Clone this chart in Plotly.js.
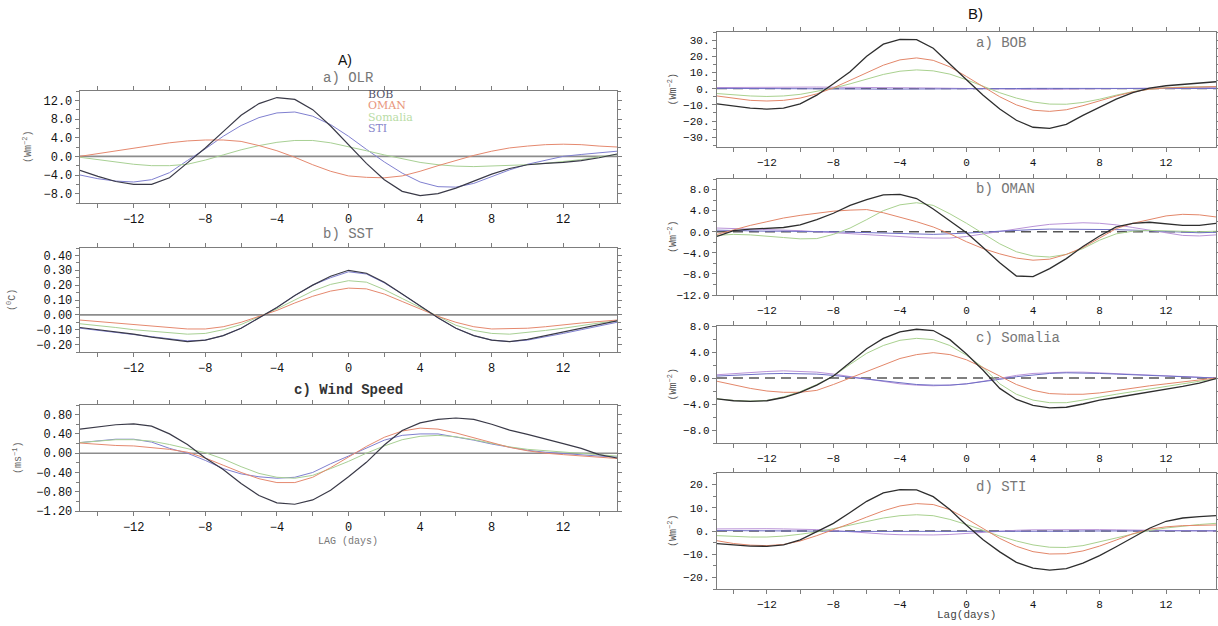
<!DOCTYPE html>
<html>
<head>
<meta charset="utf-8">
<script src="https://cdn.plot.ly/plotly-3.0.1.min.js"></script>
<style>html,body{margin:0;padding:0;background:#fff}#chart{width:1218px;height:626px}</style>
</head>
<body>
<div id="chart"></div>
<script>
// ---------------- DATA ----------------
const lag = [-15,-14,-13,-12,-11,-10,-9,-8,-7,-6,-5,-4,-3,-2,-1,0,1,2,3,4,5,6,7,8,9,10,11,12,13,14,15];

// Panel A a) OLR (W m-2)
const olrBOB     = [-3.0,-4.3,-5.4,-6.0,-6.0,-4.6,-1.4,1.8,5.3,8.8,11.3,12.6,12.2,10.0,6.5,2.5,-1.5,-5.0,-7.5,-8.4,-8.0,-6.8,-5.3,-3.8,-2.6,-1.8,-1.5,-1.3,-0.9,-0.3,0.5];
const olrOMAN    = [0.0,0.6,1.2,1.8,2.4,2.9,3.3,3.5,3.5,3.2,2.3,1.2,-0.2,-1.8,-3.2,-4.2,-4.5,-4.6,-4.2,-3.2,-2.0,-0.9,0.2,1.1,1.8,2.2,2.5,2.6,2.5,2.2,2.0];
const olrSomalia = [-0.2,-0.7,-1.3,-1.7,-2.0,-2.0,-1.7,-0.8,0.3,1.4,2.3,3.0,3.4,3.4,2.9,2.1,1.2,0.3,-0.5,-1.3,-1.8,-2.1,-2.2,-2.1,-2.0,-1.8,-1.5,-1.1,-0.7,-0.1,0.4];
const olrSTI     = [-4.0,-4.8,-5.3,-5.5,-5.0,-3.5,-0.9,1.6,4.3,6.6,8.3,9.3,9.5,8.6,6.8,4.3,1.5,-1.2,-3.6,-5.5,-6.5,-6.6,-5.8,-4.4,-2.9,-1.7,-0.8,0.0,0.4,0.8,1.1];

// Panel A b) SST (deg C)
const sstBOB     = [-0.085,-0.10,-0.115,-0.13,-0.15,-0.165,-0.18,-0.17,-0.14,-0.09,-0.02,0.05,0.13,0.20,0.26,0.30,0.28,0.22,0.14,0.06,-0.02,-0.09,-0.14,-0.17,-0.18,-0.165,-0.14,-0.115,-0.09,-0.065,-0.04];
const sstOMAN    = [-0.035,-0.045,-0.055,-0.065,-0.075,-0.085,-0.095,-0.095,-0.08,-0.05,-0.01,0.03,0.08,0.125,0.16,0.18,0.175,0.14,0.09,0.04,-0.01,-0.05,-0.08,-0.095,-0.095,-0.09,-0.08,-0.065,-0.055,-0.045,-0.035];
const sstSomalia = [-0.06,-0.07,-0.085,-0.10,-0.11,-0.12,-0.13,-0.125,-0.10,-0.065,-0.015,0.04,0.10,0.16,0.205,0.23,0.22,0.17,0.11,0.05,-0.015,-0.07,-0.105,-0.125,-0.13,-0.12,-0.105,-0.09,-0.07,-0.055,-0.04];
const sstSTI     = [-0.09,-0.105,-0.12,-0.135,-0.15,-0.165,-0.175,-0.17,-0.14,-0.09,-0.02,0.05,0.13,0.20,0.25,0.29,0.275,0.215,0.14,0.06,-0.02,-0.09,-0.14,-0.17,-0.18,-0.17,-0.15,-0.125,-0.10,-0.075,-0.05];

// Panel A c) Wind speed (m s-1)
const windBOB     = [0.50,0.55,0.59,0.61,0.56,0.40,0.18,-0.10,-0.34,-0.63,-0.88,-1.03,-1.06,-0.97,-0.77,-0.49,-0.19,0.17,0.47,0.63,0.70,0.73,0.70,0.60,0.48,0.39,0.30,0.20,0.10,-0.03,-0.10];
const windOMAN    = [0.21,0.18,0.16,0.15,0.12,0.08,0.02,-0.10,-0.25,-0.40,-0.53,-0.61,-0.61,-0.50,-0.30,-0.08,0.14,0.33,0.46,0.52,0.50,0.42,0.32,0.22,0.12,0.05,0.00,-0.03,-0.06,-0.09,-0.11];
const windSomalia = [0.22,0.25,0.28,0.28,0.25,0.18,0.10,0.01,-0.12,-0.28,-0.42,-0.50,-0.52,-0.46,-0.32,-0.17,0.00,0.15,0.28,0.35,0.37,0.34,0.28,0.20,0.13,0.08,0.05,0.03,0.00,-0.03,-0.06];
const windSTI     = [0.22,0.26,0.29,0.29,0.23,0.10,0.00,-0.15,-0.32,-0.43,-0.49,-0.52,-0.50,-0.40,-0.22,-0.06,0.11,0.27,0.37,0.40,0.40,0.34,0.27,0.19,0.12,0.06,0.02,-0.01,-0.04,-0.06,-0.08];

// Panel B (W m-2), five curves per region: s1 black, s2 orange, s3 green, s4 blue, s5 violet
const bobS1 = [-9.4,-10.8,-12.0,-12.6,-12.0,-9.4,-4.0,3.0,10.5,20.0,27.5,30.5,30.3,25.0,15.0,5.5,-4.0,-12.5,-19.5,-23.8,-24.5,-22.0,-16.5,-11.5,-6.5,-2.5,0.3,1.8,2.6,3.4,4.3];
const bobS2 = [-4.5,-6.0,-7.2,-7.6,-7.2,-5.8,-3.2,0.5,5.0,10.0,14.5,17.8,19.0,17.5,13.5,7.5,1.0,-5.0,-10.0,-13.3,-14.0,-13.0,-10.5,-7.5,-4.5,-2.0,-0.3,0.5,0.9,1.1,1.3];
const bobS3 = [-3.0,-3.8,-4.5,-4.8,-4.5,-3.5,-1.8,0.3,3.0,6.0,8.8,10.8,11.6,11.0,9.0,5.5,1.5,-2.5,-5.8,-8.2,-9.5,-9.6,-8.5,-6.5,-4.0,-1.8,-0.3,0.6,1.0,1.2,1.3];
const bobS4 = [0.2,0.2,0.1,0.1,0.0,0.0,-0.1,-0.1,-0.2,-0.2,-0.3,-0.3,-0.3,-0.2,-0.2,-0.1,0.0,0.1,0.1,0.2,0.2,0.2,0.2,0.1,0.1,0.1,0.0,0.0,0.0,0.1,0.1];
const bobS5 = [0.7,0.8,0.9,0.9,1.0,1.0,1.0,0.9,0.9,0.8,0.7,0.6,0.5,0.4,0.2,0.0,-0.2,-0.3,-0.4,-0.4,-0.4,-0.3,-0.2,-0.1,0.0,0.2,0.3,0.5,0.6,0.7,0.8];

const omanS1 = [-0.9,0.2,0.5,0.6,0.8,1.3,2.3,3.5,5.0,6.1,7.0,7.1,6.3,4.3,2.0,-0.2,-3.0,-5.9,-8.4,-8.5,-7.0,-5.1,-2.8,-0.8,0.9,1.6,1.8,1.5,1.2,1.2,1.6];
const omanS2 = [-0.5,0.4,1.2,1.9,2.6,3.1,3.5,3.9,4.1,4.2,3.6,2.8,1.9,0.9,-0.4,-1.9,-3.2,-4.2,-5.0,-5.4,-5.2,-4.3,-3.0,-1.2,0.6,1.6,2.3,3.0,3.3,3.2,2.8];
const omanS3 = [-0.7,-0.5,-0.6,-0.9,-1.1,-1.35,-1.3,-0.5,0.7,2.3,4.0,5.1,5.5,5.0,3.4,1.6,-0.4,-2.3,-3.8,-4.6,-4.8,-4.3,-3.2,-1.6,-0.4,0.1,0.25,0.15,0.0,0.0,0.1];
const omanS4 = [0.3,0.2,0.2,0.1,0.1,0.0,0.0,0.0,-0.1,-0.2,-0.3,-0.4,-0.5,-0.5,-0.4,-0.3,-0.1,0.1,0.3,0.4,0.5,0.5,0.5,0.5,0.4,0.3,0.2,0.0,-0.1,-0.2,-0.1];
const omanS5 = [0.7,0.6,0.6,0.5,0.4,0.2,0.0,-0.2,-0.4,-0.6,-0.8,-1.0,-1.1,-1.2,-1.2,-0.9,-0.4,0.1,0.6,1.0,1.4,1.6,1.7,1.6,1.3,0.8,0.3,-0.3,-0.7,-0.8,-0.6];

const somS1 = [-3.2,-3.5,-3.6,-3.5,-3.0,-2.2,-1.1,0.3,2.4,4.5,6.1,7.1,7.5,7.3,5.9,3.7,1.2,-1.6,-3.3,-4.2,-4.6,-4.5,-4.0,-3.4,-3.0,-2.6,-2.2,-1.8,-1.3,-0.8,-0.1];
const somS2 = [-0.5,-1.1,-1.6,-2.0,-2.2,-2.2,-1.9,-1.0,0.0,1.0,2.0,3.0,3.6,3.9,3.6,2.8,1.6,0.3,-1.0,-1.9,-2.4,-2.5,-2.5,-2.3,-1.9,-1.5,-1.2,-0.9,-0.6,-0.3,0.0];
const somS3 = [-3.2,-3.45,-3.55,-3.45,-2.9,-2.1,-1.0,0.3,2.1,3.8,5.0,5.8,6.1,5.9,5.0,3.5,1.6,-0.9,-2.5,-3.4,-3.8,-3.8,-3.4,-2.9,-2.5,-2.1,-1.7,-1.3,-0.9,-0.5,-0.1];
const somS4 = [0.3,0.45,0.55,0.65,0.7,0.7,0.6,0.4,0.1,-0.2,-0.5,-0.8,-1.0,-1.1,-1.1,-0.9,-0.6,-0.2,0.2,0.5,0.7,0.8,0.8,0.7,0.6,0.5,0.4,0.3,0.2,0.1,0.0];
const somS5 = [0.5,0.7,0.9,1.0,1.1,1.05,0.9,0.6,0.2,-0.2,-0.6,-0.9,-1.1,-1.2,-1.1,-0.9,-0.5,0.0,0.4,0.7,0.85,0.9,0.9,0.8,0.7,0.55,0.4,0.3,0.2,0.1,0.0];

const stiS1 = [-5.4,-6.1,-6.5,-6.6,-6.0,-3.8,-0.2,3.3,8.0,12.8,16.4,17.8,17.7,14.8,9.3,2.5,-3.8,-9.0,-13.5,-16.0,-16.9,-16.2,-13.8,-10.6,-6.8,-2.7,1.2,4.2,5.6,6.2,6.6];
const stiS2 = [-4.2,-5.4,-6.1,-6.3,-5.8,-4.3,-2.0,0.5,3.2,6.0,8.7,10.8,11.8,11.4,9.2,5.3,1.0,-3.2,-6.6,-8.9,-9.9,-9.8,-8.6,-6.5,-3.9,-1.2,0.8,1.8,2.3,2.5,2.6];
const stiS3 = [-2.0,-2.4,-2.6,-2.6,-2.2,-1.4,-0.4,1.0,2.6,4.2,5.6,6.6,7.0,6.6,5.0,2.8,0.2,-2.2,-4.3,-6.0,-7.0,-7.1,-6.3,-4.8,-3.0,-1.3,0.2,1.3,2.2,2.8,3.3];
const stiS4 = [0.2,0.2,0.1,0.1,0.1,0.0,0.0,-0.1,-0.2,-0.2,-0.3,-0.4,-0.4,-0.4,-0.4,-0.4,-0.3,-0.2,-0.2,-0.1,-0.1,-0.1,0.0,0.0,0.0,0.1,0.1,0.1,0.1,0.1,0.1];
const stiS5 = [0.9,1.0,1.0,1.0,0.9,0.8,0.6,0.2,-0.4,-0.9,-1.3,-1.6,-1.7,-1.7,-1.5,-1.0,-0.5,0.0,0.3,0.5,0.6,0.6,0.6,0.6,0.5,0.4,0.3,0.2,0.1,0.1,0.0];

const regionNames = ['BOB','OMAN','Somalia','STI'];
const xTickVals = [-12,-8,-4,0,4,8,12];
const bobTickVals = [-30,-20,-10,0,10,20,30];
const bobTickText = ['\u221230.','\u221220.','\u221210.','0.','10.','20.','30.'];
const stiTickVals = [-20,-10,0,10,20];
const stiTickText = ['\u221220.','\u221210.','0.','10.','20.'];

// ---------------- STYLE / LAYOUT ----------------
const W = 1218, H = 626;
const fx = p => p / W;
const fy = p => 1 - p / H;

const colA = ['#3a3a48', '#e5896f', '#a8d094', '#8080d0'];
const colB = ['#2e2e2e', '#e3876a', '#a9d18f', '#6f6fc6', '#b993d8'];

const traces = [];
function addSet(n, series, cols, names, widths) {
  series.forEach((s, i) => {
    traces.push({x: lag, y: s, type: 'scatter', mode: 'lines', name: names[i],
      xaxis: 'x' + (n === 1 ? '' : n), yaxis: 'y' + (n === 1 ? '' : n),
      line: {color: cols[i], width: widths[i], shape: 'linear'}, showlegend: false, hoverinfo: 'skip'});
  });
}
const orderA = [3, 2, 1, 0];
function addA(n, arr) {
  addSet(n, orderA.map(i => arr[i]), orderA.map(i => colA[i]), orderA.map(i => regionNames[i]), orderA.map(i => i === 0 ? 1.2 : 1.0));
}
addA(1, [olrBOB, olrOMAN, olrSomalia, olrSTI]);
addA(2, [sstBOB, sstOMAN, sstSomalia, sstSTI]);
addA(3, [windBOB, windOMAN, windSomalia, windSTI]);
const orderB = [4, 3, 2, 1, 0];
function addB(n, arr) {
  addSet(n, orderB.map(i => arr[i]), orderB.map(i => colB[i]), orderB.map(i => 's' + (i + 1)), orderB.map(i => i === 0 ? 1.3 : 1.0));
}
addB(4, [bobS1, bobS2, bobS3, bobS4, bobS5]);
addB(5, [omanS1, omanS2, omanS3, omanS4, omanS5]);
addB(6, [somS1, somS2, somS3, somS4, somS5]);
addB(7, [stiS1, stiS2, stiS3, stiS4, stiS5]);

const frameCol = '#7d7d7d';
function baseAxis(extra) {
  return Object.assign({
    showline: true, mirror: 'allticks', linecolor: frameCol, linewidth: 1.3,
    ticks: 'outside', ticklen: 4, tickcolor: frameCol, tickwidth: 1,
    showgrid: false, zeroline: false, fixedrange: true,
    tickfont: {family: 'Liberation Mono', size: 12, color: '#111'}
  }, extra);
}
function xAxis(n, left, right, fs) {
  return baseAxis({
    domain: [fx(left), fx(right)], range: [-15, 15], anchor: 'y' + (n === 1 ? '' : n),
    tickmode: 'array', tickvals: xTickVals,
    minor: {dtick: 2, tick0: 0, ticks: 'outside', ticklen: 4, tickcolor: frameCol, showgrid: false},
    tickfont: {family: 'Liberation Mono', size: fs, color: '#111'}
  });
}
function yAxis(n, top, bottom, range, extra, fs) {
  return baseAxis(Object.assign({
    domain: [fy(bottom), fy(top)], range: range, anchor: 'x' + (n === 1 ? '' : n),
    tickfont: {family: 'Liberation Mono', size: fs, color: '#111'}
  }, extra));
}
const LX0 = 80, LX1 = 617, RX0 = 717, RX1 = 1216;
const pos = {
  1: [91, 203], 2: [248, 352], 3: [405, 511],
  4: [32, 147], 5: [179, 295], 6: [326, 443], 7: [473, 589]
};
const minorY = d => ({dtick: d, tick0: 0, ticks: 'outside', ticklen: 3, tickcolor: frameCol});

const layout = {
  width: W, height: H, margin: {l: 0, r: 0, t: 0, b: 0},
  paper_bgcolor: '#ffffff', plot_bgcolor: '#ffffff', showlegend: false,
  font: {family: 'Liberation Mono', color: '#222'},
  xaxis:  xAxis(1, LX0, LX1, 12), xaxis2: xAxis(2, LX0, LX1, 12), xaxis3: xAxis(3, LX0, LX1, 12),
  xaxis4: xAxis(4, RX0, RX1, 11), xaxis5: xAxis(5, RX0, RX1, 11), xaxis6: xAxis(6, RX0, RX1, 11), xaxis7: xAxis(7, RX0, RX1, 11),
  yaxis:  yAxis(1, pos[1][0], pos[1][1], [-10, 14], {dtick: 4, tick0: 0, tickformat: '.1f', minor: minorY(2)}, 12),
  yaxis2: yAxis(2, pos[2][0], pos[2][1], [-0.25, 0.45], {dtick: 0.1, tick0: 0, tickformat: '.2f', minor: minorY(0.05)}, 12),
  yaxis3: yAxis(3, pos[3][0], pos[3][1], [-1.2, 1.0], {dtick: 0.4, tick0: 0, tickformat: '.2f', minor: minorY(0.2)}, 12),
  yaxis4: yAxis(4, pos[4][0], pos[4][1], [-36, 35], {tickmode: 'array', tickvals: bobTickVals, ticktext: bobTickText, minor: minorY(5)}, 11),
  yaxis5: yAxis(5, pos[5][0], pos[5][1], [-12, 10], {dtick: 4, tick0: 0, tickformat: '.1f', minor: minorY(2)}, 11),
  yaxis6: yAxis(6, pos[6][0], pos[6][1], [-10, 8], {dtick: 4, tick0: 0, tickformat: '.1f', minor: minorY(2)}, 11),
  yaxis7: yAxis(7, pos[7][0], pos[7][1], [-25, 25], {tickmode: 'array', tickvals: stiTickVals, ticktext: stiTickText, minor: minorY(5)}, 11),
  shapes: [], annotations: []
};

// zero lines
[1, 2, 3].forEach(n => layout.shapes.push({type: 'line', layer: 'below', xref: 'x' + (n === 1 ? '' : n) + ' domain', x0: 0, x1: 1,
  yref: 'y' + (n === 1 ? '' : n), y0: 0, y1: 0, line: {color: '#8c8c8c', width: 1.6}}));
[4, 5, 6, 7].forEach(n => layout.shapes.push({type: 'line', layer: 'below', xref: 'x' + n + ' domain', x0: 0, x1: 1,
  yref: 'y' + n, y0: 0, y1: 0, line: {color: '#555555', width: 1.3, dash: '10px,6px'}}));

function ann(text, cx, cy, opts) {
  layout.annotations.push(Object.assign({text: text, x: fx(cx), y: fy(cy), xref: 'paper', yref: 'paper',
    showarrow: false, xanchor: 'center', yanchor: 'middle'}, opts));
}
const serif = 'DejaVu Serif';
ann('A)', 345, 60, {font: {family: 'Liberation Sans', size: 14, color: '#111'}});
ann('a) OLR', 348, 78, {font: {family: 'Liberation Mono', size: 14, color: '#777'}});
ann('b) SST', 348, 234, {font: {family: 'Liberation Mono', size: 14, color: '#777'}});
ann('<b>c) Wind Speed</b>', 348, 390, {font: {family: 'Liberation Mono', size: 14, color: '#333'}});
ann('LAG (days)', 348, 541, {font: {family: 'Liberation Mono', size: 10, color: '#777'}});
const legendRows = [94, 105.5, 117, 128.5];
const legendCols = ['#55556a', '#e8957c', '#b9dca6', '#8a88cc'];
regionNames.forEach((r, i) => ann(r, 366, legendRows[i], {xanchor: 'left', font: {family: serif, size: 11, color: legendCols[i]}}));
ann('(Wm<sup>\u22122</sup>)', 27, 147, {textangle: -90, font: {family: 'Liberation Mono', size: 10, color: '#666'}});
ann('(<sup>0</sup>C)', 11, 300, {textangle: -90, font: {family: 'Liberation Mono', size: 10, color: '#666'}});
ann('(ms<sup>\u22121</sup>)', 17, 458, {textangle: -90, font: {family: 'Liberation Mono', size: 10, color: '#666'}});

ann('B)', 975, 14, {font: {family: 'Liberation Sans', size: 15, color: '#111'}});
const subB = ['a) BOB', 'b) OMAN', 'c) Somalia', 'd) STI'];
const subBy = [43, 189, 338, 487];
subB.forEach((t, i) => ann(t, 974, subBy[i], {xanchor: 'left', font: {family: 'Liberation Mono', size: 14, color: '#777'}}));
[4, 5, 6, 7].forEach(n => ann('(Wm<sup>\u22122</sup>)', 672, (pos[n][0] + pos[n][1]) / 2, {textangle: -90, font: {family: 'Liberation Mono', size: 10, color: '#555'}}));
ann('Lag(days)', 966, 615, {font: {family: 'Liberation Mono', size: 11, color: '#444'}});

Plotly.newPlot('chart', traces, layout, {displayModeBar: false, staticPlot: true});
</script>
</body>
</html>
